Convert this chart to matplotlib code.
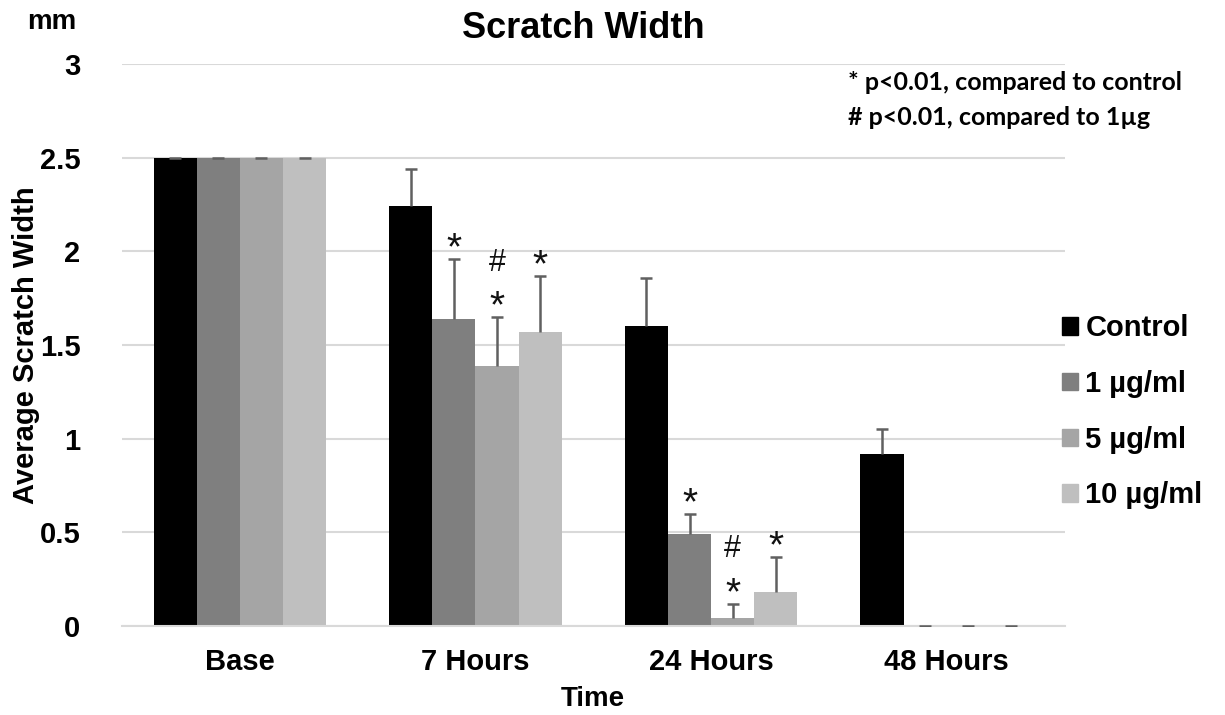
import numpy as np
import matplotlib
matplotlib.use("Agg")
import matplotlib.pyplot as plt
from matplotlib.patches import Patch

plt.rcParams["font.family"] = ["Liberation Sans", "DejaVu Sans"]

times = ["Base", "7 Hours", "24 Hours", "48 Hours"]
groups = ["Control", "1 µg/ml", "5 µg/ml", "10 µg/ml"]
colors = ["#000000", "#7f7f7f", "#a5a5a5", "#bfbfbf"]

control = [2.50, 2.24, 1.60, 0.92]
ug1 = [2.50, 1.64, 0.49, 0.0]
ug5 = [2.50, 1.39, 0.04, 0.0]
ug10 = [2.50, 1.57, 0.18, 0.0]

control_err = [0.0, 0.20, 0.26, 0.13]
ug1_err = [0.0, 0.32, 0.11, 0.0]
ug5_err = [0.0, 0.26, 0.08, 0.0]
ug10_err = [0.0, 0.30, 0.19, 0.0]

# significance marks per (time index, group index), bottom to top
sig_marks = {
    (1, 1): ["*"], (1, 2): ["*", "#"], (1, 3): ["*"],
    (2, 1): ["*"], (2, 2): ["*", "#"], (2, 3): ["*"],
}

values = [control, ug1, ug5, ug10]
errors = [control_err, ug1_err, ug5_err, ug10_err]

fig = plt.figure(figsize=(12.25, 7.15), dpi=100)
ax = fig.add_axes([0.0996, 0.1245, 0.7694, 0.786])

x = np.arange(len(times))
w = 0.183
for i, (vals, errs) in enumerate(zip(values, errors)):
    pos = x + (i - 1.5) * w
    ax.bar(pos, vals, width=w, color=colors[i], zorder=2)
    eb = ax.errorbar(pos, vals, yerr=[np.zeros(len(errs)), errs], fmt="none",
                     ecolor="#606060", elinewidth=1.8, capsize=4,
                     capthick=1.8, zorder=3)
    # only the upper cap is shown
    eb[1][0].set_visible(False)

for (t, g), marks in sig_marks.items():
    xp = x[t] + (g - 1.5) * w
    top = values[g][t] + errors[g][t]
    for k, m in enumerate(marks):
        if m == "*":
            ax.text(xp, top + 0.05 + k * 0.2, m, ha="center", va="center",
                    fontsize=28, color="#111111")
        else:
            ax.text(xp, top + 0.05 + k * 0.2 + 0.04, m, ha="center",
                    va="center", fontsize=22, color="#111111")

ax.set_xlim(-0.5, 3.5)
ax.set_ylim(0, 3)
ax.set_yticks([0, 0.5, 1, 1.5, 2, 2.5, 3])
ax.set_yticklabels(["0", "0.5", "1", "1.5", "2", "2.5", "3"])
ax.set_xticks(x)
ax.set_xticklabels(times)
ax.tick_params(length=0, labelsize=21)
ax.tick_params(axis="x", pad=16)
ax.tick_params(axis="y", pad=30)
for lab in ax.get_xticklabels() + ax.get_yticklabels():
    lab.set_fontweight("bold")
ax.grid(axis="y", color="#d9d9d9", linewidth=1.5, zorder=0)
for s in ["top", "right", "left"]:
    ax.spines[s].set_visible(False)
ax.spines["bottom"].set_color("#d9d9d9")
ax.spines["bottom"].set_linewidth(1.5)

ax.set_xlabel("Time", fontsize=20, fontweight="bold", labelpad=7)
ax.set_ylabel("Average Scratch Width", fontsize=21, fontweight="bold",
              labelpad=0)
fig.text(0.476, 0.96, "Scratch Width", ha="center", va="center",
         fontsize=26, fontweight="bold")
fig.text(0.042, 0.969, "mm", ha="center", va="center", fontsize=20,
         fontweight="bold")

fig.text(0.692, 0.885, "* p<0.01, compared to control", fontsize=18,
         fontweight="bold", family=["Lato", "DejaVu Sans"], va="center")
fig.text(0.692, 0.835, "# p<0.01, compared to 1µg", fontsize=18,
         fontweight="bold", family=["Lato", "DejaVu Sans"], va="center")

handles = [Patch(color=c, label=g) for c, g in zip(colors, groups)]
leg = fig.legend(handles=handles, loc="center left",
                 bbox_to_anchor=(0.867, 0.424), frameon=False,
                 prop={"size": 21, "weight": "bold"},
                 handlelength=0.55, handleheight=0.55, handletextpad=0.25,
                 labelspacing=0.95, borderpad=0, borderaxespad=0)

fig.savefig("out.png", dpi=100)
